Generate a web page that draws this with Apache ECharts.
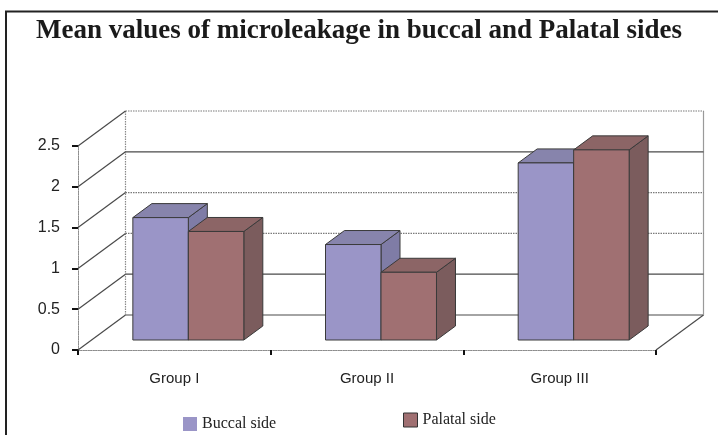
<!DOCTYPE html>
<html>
<head>
<meta charset="utf-8">
<script src="https://cdn.jsdelivr.net/npm/echarts@6/dist/echarts.min.js"></script>
<style>
html,body{margin:0;padding:0;background:#fff;}
#chart{width:718px;height:435px;}
</style>
</head>
<body>
<div id="chart"></div>
<script>
// ---- data ----
const categories = ['Group I', 'Group II', 'Group III'];
const buccal = [1.5, 1.17, 2.17];
const palatal = [1.33, 0.83, 2.33];
const yTicks = [0, 0.5, 1, 1.5, 2, 2.5];
const seriesNames = ['Buccal side', 'Palatal side'];

// ---- styling (pixel offsets for the oblique 3D look) ----
const WALL_DX = 47.5, WALL_DY = -35;   // depth of floor / side wall
const FRONT_DX = 14, FRONT_DY = -10;   // bars' front plane
const BAR_DX = 19, BAR_DY = -14;       // bar depth
const BAR_FRAC = 0.288;                // bar width as share of category band
const backLineDotted = [false, false, true, true, false, true];

const faces = {
  'Buccal side': {front: '#9A95C7', top: '#8784AC', side: '#7F7CA6'},
  'Palatal side': {front: '#A07072', top: '#8C6566', side: '#7B5C5D'}
};

function wallItem(params, api) {
  const cs = params.coordSys;
  const v = api.value(1);
  const p = api.coord([0, v]);
  const y = p[1];
  const gx = cs.x, gr = cs.x + cs.width;
  const children = [];
  const idx = params.dataIndex;
  const dotted = backLineDotted[idx];
  children.push({type: 'line', shape: {x1: gx + WALL_DX, y1: y + WALL_DY, x2: gr + WALL_DX, y2: y + WALL_DY},
    style: {stroke: dotted ? '#7a7a7a' : '#4a4a4a', lineWidth: 1.2, lineDash: dotted ? [1.5, 1] : null}});
  children.push({type: 'line', shape: {x1: gx, y1: y, x2: gx + WALL_DX, y2: y + WALL_DY},
    style: {stroke: '#4a4a4a', lineWidth: 1.2}});
  if (idx === 0) {
    children.push({type: 'line', shape: {x1: gr, y1: y, x2: gr + WALL_DX, y2: y + WALL_DY},
      style: {stroke: '#4a4a4a', lineWidth: 1.2}});
    const yTop = api.coord([0, yTicks[yTicks.length - 1]])[1];
    children.push({type: 'line', shape: {x1: gx + WALL_DX, y1: y + WALL_DY, x2: gx + WALL_DX, y2: yTop + WALL_DY},
      style: {stroke: '#8a8a8a', lineWidth: 1.2, lineDash: [1.5, 1]}});
    children.push({type: 'line', shape: {x1: gr + WALL_DX, y1: y + WALL_DY, x2: gr + WALL_DX, y2: yTop + WALL_DY},
      style: {stroke: '#9a9a9a', lineWidth: 1.2}});
  }
  return {type: 'group', children: children};
}

function barRenderer(name, isLeft) {
  const f = faces[name];
  return function (params, api) {
    const i = api.value(0), v = api.value(1);
    const top = api.coord([i, v]);
    const base = api.coord([i, 0]);
    const band = api.size([1, 0])[0];
    const w = band * BAR_FRAC;
    const x0 = (isLeft ? top[0] - w : top[0]) + FRONT_DX;
    const yT = top[1] + FRONT_DY;
    const yB = base[1] + FRONT_DY;
    const stroke = '#3a3a3a';
    return {type: 'group', children: [
      {type: 'polygon', shape: {points: [[x0 + w, yT], [x0 + w + BAR_DX, yT + BAR_DY], [x0 + w + BAR_DX, yB + BAR_DY], [x0 + w, yB]]},
        style: {fill: f.side, stroke: stroke, lineWidth: 1}},
      {type: 'polygon', shape: {points: [[x0, yT], [x0 + BAR_DX, yT + BAR_DY], [x0 + w + BAR_DX, yT + BAR_DY], [x0 + w, yT]]},
        style: {fill: f.top, stroke: stroke, lineWidth: 1}},
      {type: 'rect', shape: {x: x0, y: yT, width: w, height: yB - yT},
        style: {fill: f.front, stroke: stroke, lineWidth: 1}}
    ]};
  };
}

const chart = echarts.init(document.getElementById('chart'), null, {renderer: 'canvas'});
chart.setOption({
  animation: false,
  backgroundColor: '#fff',
  title: {
    text: 'Mean values of microleakage in buccal and Palatal sides',
    left: 'center',
    top: 13,
    textStyle: {fontFamily: 'Liberation Serif', fontWeight: 'bold', fontSize: 27, color: '#1a1a1a'}
  },
  legend: [
    {data: [seriesNames[0]], left: 178, top: 411, itemWidth: 14, itemHeight: 14, icon: 'rect', selectedMode: false,
      textStyle: {fontFamily: 'Liberation Serif', fontSize: 16, color: '#222'}},
    {data: [seriesNames[1]], left: 398, top: 407, itemWidth: 14, itemHeight: 14, icon: 'rect', selectedMode: false,
      itemStyle: {borderColor: '#333', borderWidth: 1},
      textStyle: {fontFamily: 'Liberation Serif', fontSize: 16, color: '#222'}}
  ],
  grid: {left: 78, right: 62, top: 146, bottom: 85, containLabel: false},
  xAxis: {
    type: 'category', data: categories, boundaryGap: true,
    axisLine: {show: true, lineStyle: {color: '#8a8a8a', type: [1.5, 1], width: 1}},
    axisTick: {show: true, length: 5, lineStyle: {color: '#111', width: 2}},
    axisLabel: {margin: 21, fontFamily: 'Liberation Sans', fontSize: 15, color: '#222'},
    splitLine: {show: false}
  },
  yAxis: {
    type: 'value', min: 0, max: 2.5, interval: 0.5,
    axisLine: {show: true, lineStyle: {color: '#8a8a8a', type: [1.5, 1], width: 1}},
    axisTick: {show: true, length: 6, lineStyle: {color: '#111', width: 2}},
    axisLabel: {margin: 18, fontFamily: 'Liberation Sans', fontSize: 16, color: '#222'},
    splitLine: {show: false}
  },
  graphic: [{
    type: 'polyline', silent: true, z: 100,
    shape: {points: [[6, 435], [6, 11.5], [718, 11.5]]},
    style: {stroke: '#222', lineWidth: 2, fill: null}
  }],
  series: [
    {type: 'custom', name: 'walls', renderItem: wallItem, data: yTicks.map(v => [0, v]), silent: true, z: 1},
    {type: 'custom', name: seriesNames[0], renderItem: barRenderer(seriesNames[0], true),
      itemStyle: {color: faces[seriesNames[0]].front},
      data: buccal.map((v, i) => [i, v]), z: 2},
    {type: 'custom', name: seriesNames[1], renderItem: barRenderer(seriesNames[1], false),
      itemStyle: {color: faces[seriesNames[1]].front},
      data: palatal.map((v, i) => [i, v]), z: 2}
  ]
});
</script>
</body>
</html>
